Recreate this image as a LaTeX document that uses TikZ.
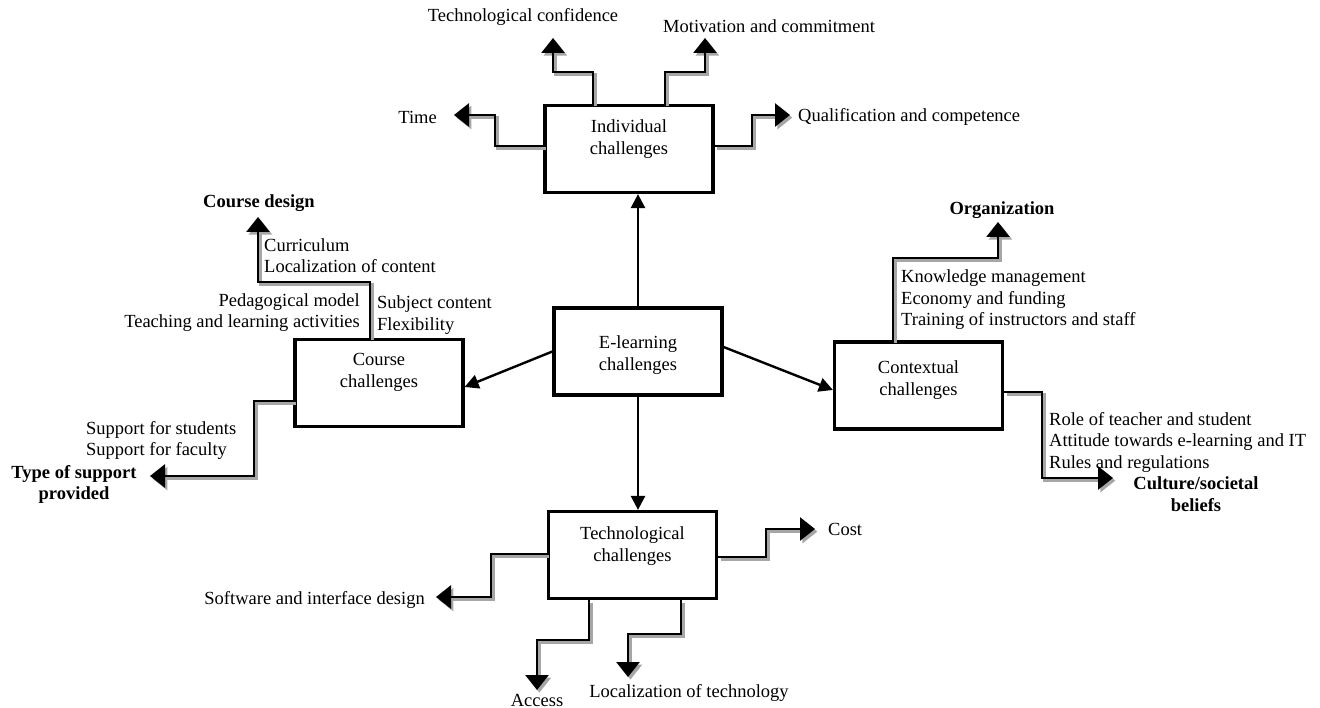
\documentclass[tikz,border=0pt]{standalone}
\usepackage{fontspec}
\setmainfont{Liberation Serif}
\usetikzlibrary{arrows.meta,calc}

\begin{document}
\begin{tikzpicture}[x=1pt,y=-1pt,
  every node/.style={font=\fontsize{18.5}{21.5}\selectfont, inner sep=0pt},
  box/.style={draw, line width=3.2pt, minimum width=168pt, minimum height=87pt},
  boxtext/.style={align=center},
  head/.style={align=center, font=\fontsize{18.5}{21.5}\selectfont\bfseries},
  note/.style={align=left, anchor=west},
  arr/.style={line width=2.4pt, -{Triangle[length=14pt,width=14pt]}},
  shade line/.style={draw=black!35, line width=2.8pt,
    -{Triangle[length=15pt,width=23pt]}},
  elbow/.style={line width=2.8pt, -{Triangle[length=15pt,width=23pt]}}
]
\useasboundingbox (0,0) rectangle (1320,708);

% a stepped connector: grey drop shadow first, black line on top
\newcommand\stepconn[1]{%
  \begin{scope}[transform canvas={shift={(2.4pt,-2.6pt)}}]
    \draw[shade line] #1;
  \end{scope}
  \draw[elbow] #1;}

% challenge boxes
\node[box] (el)     at (638,351.5) {};
\node[box] (ind)    at (629,149) {};
\node[box] (course) at (379,383) {};
\node[box] (ctx)    at (918.5,385.5) {};
\node[box] (tech)   at (632.5,555) {};

\node[boxtext] (elT)     at (638,355)   {E-learning\\challenges};
\node[boxtext] (indT)    at (629,139)   {Individual\\challenges};
\node[boxtext] (courseT) at (379,372.5) {Course\\challenges};
\node[boxtext] (ctxT)    at (918.5,380) {Contextual\\challenges};
\node[boxtext] (techT)   at (632.5,546) {Technological\\challenges};

% main arrows from the central box
\draw[arr] (el.north) -- (el.north |- ind.south);
\draw[arr] (el.south) -- (el.south |- tech.north);
\draw[arr] (el.west) -- (course.east |- 0,387);
\draw[arr] (el.east |- 0,347) -- (ctx.west |- 0,390);

% arrow end points
\coordinate (tTime) at (454,115);
\coordinate (tConf) at (553,38);
\coordinate (tMot)  at (705,38);
\coordinate (tQual) at (790,115);
\coordinate (tDes)  at (258,217);
\coordinate (tSup)  at (150,476);
\coordinate (tOrg)  at (998,222);
\coordinate (tCul)  at (1113,478);
\coordinate (tSw)   at (436,597);
\coordinate (tCost) at (815,529);
\coordinate (tAcc)  at (537,690);
\coordinate (tLoc)  at (628,677);

% individual challenges
\stepconn{(ind.west |- 0,146) -| (495,115) -- (tTime)}
\stepconn{(593,0 |- ind.north) |- (553,72) -- (tConf)}
\stepconn{(665,0 |- ind.north) |- (705,72) -- (tMot)}
\stepconn{(ind.east |- 0,146) -| (752,115) -- (tQual)}

% course challenges
\stepconn{(370,0 |- course.north) |- (258,282) -- (tDes)}
\stepconn{(course.west |- 0,401) -| (254,476) -- (tSup)}

% contextual challenges
\stepconn{(893,0 |- ctx.north) |- (998,258) -- (tOrg)}
\stepconn{(ctx.east |- 0,392) -| (1042,478) -- (tCul)}

% technological challenges
\stepconn{(tech.west |- 0,554) -| (491,597) -- (tSw)}
\stepconn{(tech.east |- 0,557) -| (766,529) -- (tCost)}
\stepconn{(589,0 |- tech.south) |- (537,640) -- (tAcc)}
\stepconn{(681,0 |- tech.south) |- (628,634) -- (tLoc)}

% labels
\node (lConf) at (523,17) {Technological confidence};
\node[anchor=west] (lMot) at (663,26) {Motivation and commitment};
\node[anchor=east] (lTime) at (437,117) {Time};
\node[anchor=west] (lQual) at (798,117) {Qualification and competence};

\node[head] (lDes) at (259,203) {Course design};
\node[note] (lCur) at (264,255.5) {Curriculum\\Localization of content};
\node[align=right, anchor=east] (lPed) at (360,312.5) {Pedagogical model\\Teaching and learning activities};
\node[note] (lSub) at (377,315) {Subject content\\Flexibility};
\node[note] (lSupp) at (86,440.5) {Support for students\\Support for faculty};
\node[head] (lType) at (74,484.5) {Type of support\\provided};

\node[head] (lOrg) at (1002,210) {Organization};
\node[note] (lKno) at (901,300) {Knowledge management\\Economy and funding\\Training of instructors and staff};
\node[note] (lRole) at (1049,442) {Role of teacher and student\\Attitude towards e-learning and IT\\Rules and regulations};
\node[head] (lCul) at (1196,494) {Culture/societal\\beliefs};

\node[anchor=west] (lCost) at (828,529) {Cost};
\node[anchor=east] (lSw) at (425,600) {Software and interface design};
\node (lAcc) at (537,700) {Access};
\node (lLoc) at (689,693) {Localization of technology};
\end{tikzpicture}
\end{document}
